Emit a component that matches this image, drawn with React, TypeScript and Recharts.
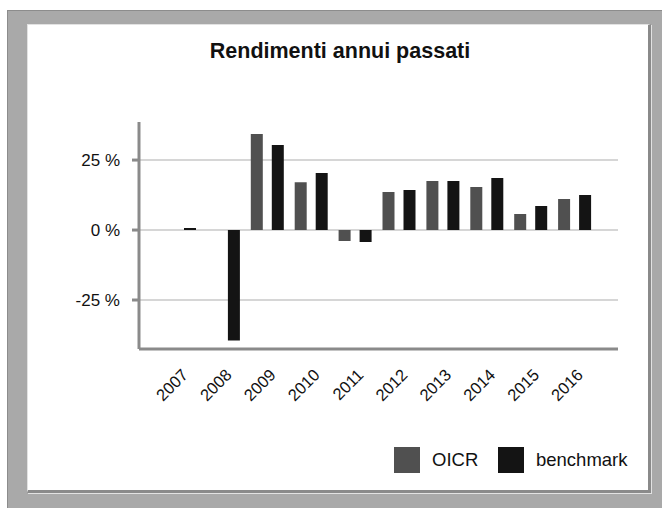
import React from "react"
import { BarChart, Bar, XAxis, YAxis, CartesianGrid } from "recharts"

const YEARS = ["2007", "2008", "2009", "2010", "2011", "2012", "2013", "2014", "2015", "2016"]
const OICR = [null, null, 34.3, 17.1, -3.9, 13.6, 17.5, 15.4, 5.7, 11.1]
const BENCHMARK = [0.7, -39.5, 30.4, 20.4, -4.3, 14.3, 17.5, 18.6, 8.6, 12.5]
const Y_TICKS = [-25, 0, 25]
const Y_DOMAIN = [-42.5, 38.6]

const SERIES = [
    { key: "oicr", name: "OICR", color: "#505050" },
    { key: "benchmark", name: "benchmark", color: "#141414" }
]

const FONT = '"Liberation Sans", Arial, sans-serif'

const data = YEARS.map((year, i) => ({
    year,
    oicr: OICR[i],
    benchmark: BENCHMARK[i]
}))

// etichette degli anni ruotate di 45 gradi
const YearTick = (props: any) => {
    const { x, y, payload } = props
    const tx = x + 9
    const ty = y + 27
    return (
        <text
            x={tx}
            y={ty}
            textAnchor="end"
            transform={`rotate(-45, ${tx}, ${ty})`}
            fontSize={16.5}
            fontFamily={FONT}
            fill="#111"
        >
            {payload.value}
        </text>
    )
}

// linee della griglia solo sui tick dell'asse y
const gridLines = ({ yAxis, offset }: any) => {
    const sc = yAxis && yAxis.scale
    return Y_TICKS.map((t) => {
        if (typeof sc === "function") return sc(t)
        if (sc && typeof sc.map === "function") return sc.map(t)
        return offset.top + (offset.height * (Y_DOMAIN[1] - t)) / (Y_DOMAIN[1] - Y_DOMAIN[0])
    })
}

export default function App() {
    return (
        <div style={{ position: "absolute", left: 0, top: 0, width: 662, height: 508, overflow: "hidden", fontFamily: FONT }}>
            {/* cornice grigia */}
            <div style={{
                position: "absolute", left: 7, top: 10, width: 655, height: 498,
                background: "#a9a9a9", borderTop: "1px solid #8c8c8c", borderLeft: "1px solid #8c8c8c",
                boxSizing: "border-box"
            }} />
            <div style={{
                position: "absolute", left: 27, top: 24, width: 624, height: 469,
                background: "#fff", boxSizing: "border-box",
                borderTop: "1px solid #e2e2e2", borderLeft: "1px solid #e2e2e2",
                borderRight: "3px solid #8a8a8a", borderBottom: "3px solid #8a8a8a",
                boxShadow: "1px 1px 0 #e2e2e2"
            }} />

            <div style={{
                position: "absolute", left: 28, top: 41, width: 624, textAlign: "center",
                fontSize: 21.5, lineHeight: "21px", fontWeight: "bold", color: "#111"
            }}>
                Rendimenti annui passati
            </div>

            <div style={{ position: "absolute", left: 28, top: 25 }}>
                <BarChart
                    width={620}
                    height={465}
                    data={data}
                    margin={{ top: 97, right: 30, bottom: 111, left: 51 }}
                    barSize={12}
                    barGap={9}
                >
                    <CartesianGrid
                        vertical={false}
                        stroke="#d6d6d6"
                        strokeWidth={2}
                        horizontalCoordinatesGenerator={gridLines}
                    />
                    <XAxis
                        dataKey="year"
                        height={30}
                        padding={{ left: 19, right: 21 }}
                        axisLine={{ stroke: "#8a8a8a", strokeWidth: 3 }}
                        tickLine={false}
                        tickSize={0}
                        tickMargin={0}
                        interval={0}
                        tick={<YearTick />}
                    />
                    <YAxis
                        width={60}
                        domain={Y_DOMAIN}
                        ticks={Y_TICKS}
                        allowDataOverflow
                        tickFormatter={(v: number) => `${v} %`}
                        axisLine={{ stroke: "#8a8a8a", strokeWidth: 3 }}
                        tickLine={{ stroke: "#8a8a8a", strokeWidth: 3 }}
                        tickSize={7}
                        tickMargin={12}
                        tick={{ fontSize: 17, fill: "#111", fontFamily: FONT }}
                    />
                    {SERIES.map((s) => (
                        <Bar key={s.key} dataKey={s.key} name={s.name} fill={s.color} isAnimationActive={false} />
                    ))}
                </BarChart>
            </div>

            {/* legenda */}
            {SERIES.map((s, i) => (
                <div key={s.key} style={{ position: "absolute", left: 394 + i * 104, top: 447, height: 26, display: "flex", alignItems: "center" }}>
                    <div style={{ width: 26, height: 26, background: s.color }} />
                    <span style={{ marginLeft: 12, fontSize: 18.5, lineHeight: "26px", color: "#111" }}>{s.name}</span>
                </div>
            ))}
        </div>
    )
}
